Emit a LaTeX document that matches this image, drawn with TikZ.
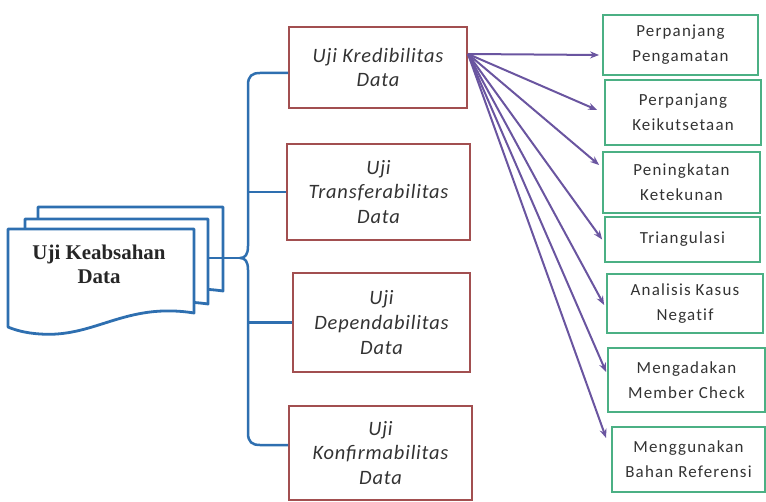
\documentclass[tikz,border=0pt]{standalone}
\usepackage{fontspec}
\setmainfont{Liberation Serif}
\newfontfamily\boxfont[LetterSpace=4]{Carlito}
\newfontfamily\stepfont[LetterSpace=7,Ligatures=NoCommon]{Carlito}
\usetikzlibrary{arrows.meta}

\definecolor{docblue}{HTML}{2E6FB0}
\definecolor{testred}{HTML}{A24F50}
\definecolor{stepgreen}{HTML}{4BB084}
\definecolor{fanpurple}{HTML}{6A55A0}
\definecolor{inkgray}{HTML}{333333}

\tikzset{
  docsheet/.style={draw=docblue, line width=2.8bp, fill=white, line join=round},
  spine/.style={draw=docblue, line width=2.5bp},
  testbox/.style={draw=testred, line width=2bp, fill=white, align=center,
    font=\boxfont\itshape\fontsize{20.5}{25}\selectfont, text=inkgray,
    inner sep=0pt},
  stepbox/.style={draw=stepgreen, line width=1.8bp, fill=white, align=center,
    font=\stepfont\fontsize{17}{25}\selectfont, text=inkgray, inner sep=0pt},
  fan/.style={draw=fanpurple, line width=2bp,
    -{Stealth[length=9bp,width=7bp]}},
}

\begin{document}
\begin{tikzpicture}[x=1bp, y=-1bp]
\useasboundingbox (0,0) rectangle (766,502);

% stacked documents: back, middle, front
\path[docsheet] (38,207) -- (223,207) -- (223,291)
  .. controls (160,282) and (120,305) .. (38,300) -- cycle;
\path[docsheet] (25,219) -- (208,219) -- (208,304)
  .. controls (145,295) and (105,318) .. (25,313) -- cycle;
\path[docsheet] (8,229) -- (194,229) -- (194,313)
  .. controls (125,302) and (95,338) .. (40,334)
  .. controls (25,333) and (15,330) .. (8,327) -- cycle;
\node[font=\bfseries\fontsize{21}{24}\selectfont, align=center, text=black!85]
  (doc) at (99,264) {Uji Keabsahan\\Data};

% the four tests
\node[testbox, minimum width=178bp, minimum height=81bp] (k1) at (378,67.5)
  {Uji Kredibilitas\\Data};
\node[testbox, minimum width=183bp, minimum height=96bp] (k2) at (378.5,192)
  {Uji\\Transferabilitas\\Data};
\node[testbox, minimum width=177bp, minimum height=99bp] (k3) at (381.5,322.5)
  {Uji\\Dependabilitas\\Data};
\node[testbox, minimum width=183bp, minimum height=94bp] (k4) at (380.5,453)
  {Uji\\Konfirmabilitas\\Data};

% credibility techniques
\node[stepbox, minimum width=155bp, minimum height=60bp] (g1) at (680.5,45)
  {Perpanjang\\Pengamatan};
\node[stepbox, minimum width=156bp, minimum height=65bp] (g2) at (683,112.5)
  {Perpanjang\\Keikutsetaan};
\node[stepbox, minimum width=157bp, minimum height=61bp] (g3) at (681.5,182.5)
  {Peningkatan\\Ketekunan};
\node[stepbox, minimum width=155bp, minimum height=45bp] (g4) at (682.5,239.5)
  {Triangulasi};
\node[stepbox, minimum width=156bp, minimum height=59bp] (g5) at (685,303.5)
  {Analisis Kasus\\Negatif};
\node[stepbox, minimum width=157bp, minimum height=64bp] (g6) at (686.5,380)
  {Mengadakan\\Member Check};
\node[stepbox, minimum width=153bp, minimum height=65bp] (g7) at (688.5,459.5)
  {Menggunakan\\Bahan Referensi};

% brace from the documents to the tests
\coordinate (docout) at (208,258);
\coordinate (tip) at (240,258);
\coordinate (spinex) at (248,0);
\draw[spine, line join=round] ([yshift=-5.5bp]k1.west) -- (260,73)
  .. controls (252,73) and (248,76) .. (248,85) -- (248,246)
  .. controls (248,255) and (245,258) .. (tip)
  .. controls (245,258) and (248,261) .. (248,270) -- (248,433)
  .. controls (248,442) and (252,445) .. (260,445) -- ([yshift=8bp]k4.west);
\draw[spine] (docout) -- (tip);
\draw[spine] (spinex |- k2.west) -- (k2.west);
\draw[spine] (spinex |- k3.west) -- (k3.west);

% fan of arrows from the credibility test
\coordinate (fanA) at ([yshift=-28bp]k1.north east);
\draw[fan] (fanA) -- ([xshift=-3bp,yshift=-10bp]g1.west);
\draw[fan] (fanA) -- ([xshift=-7bp,yshift=2.5bp]g2.west);
\draw[fan] (fanA) -- ([xshift=-3bp,yshift=17.5bp]g3.west);
\draw[fan] (fanA) -- ([xshift=-2bp]g4.west);
\draw[fan] (fanA) -- ([xshift=-2bp,yshift=-1.5bp]g5.west);
\draw[fan] (fanA) -- ([xshift=-1bp,yshift=8bp]g6.west);
\draw[fan] (fanA) -- ([xshift=-5bp,yshift=21.5bp]g7.west);
\end{tikzpicture}
\end{document}
